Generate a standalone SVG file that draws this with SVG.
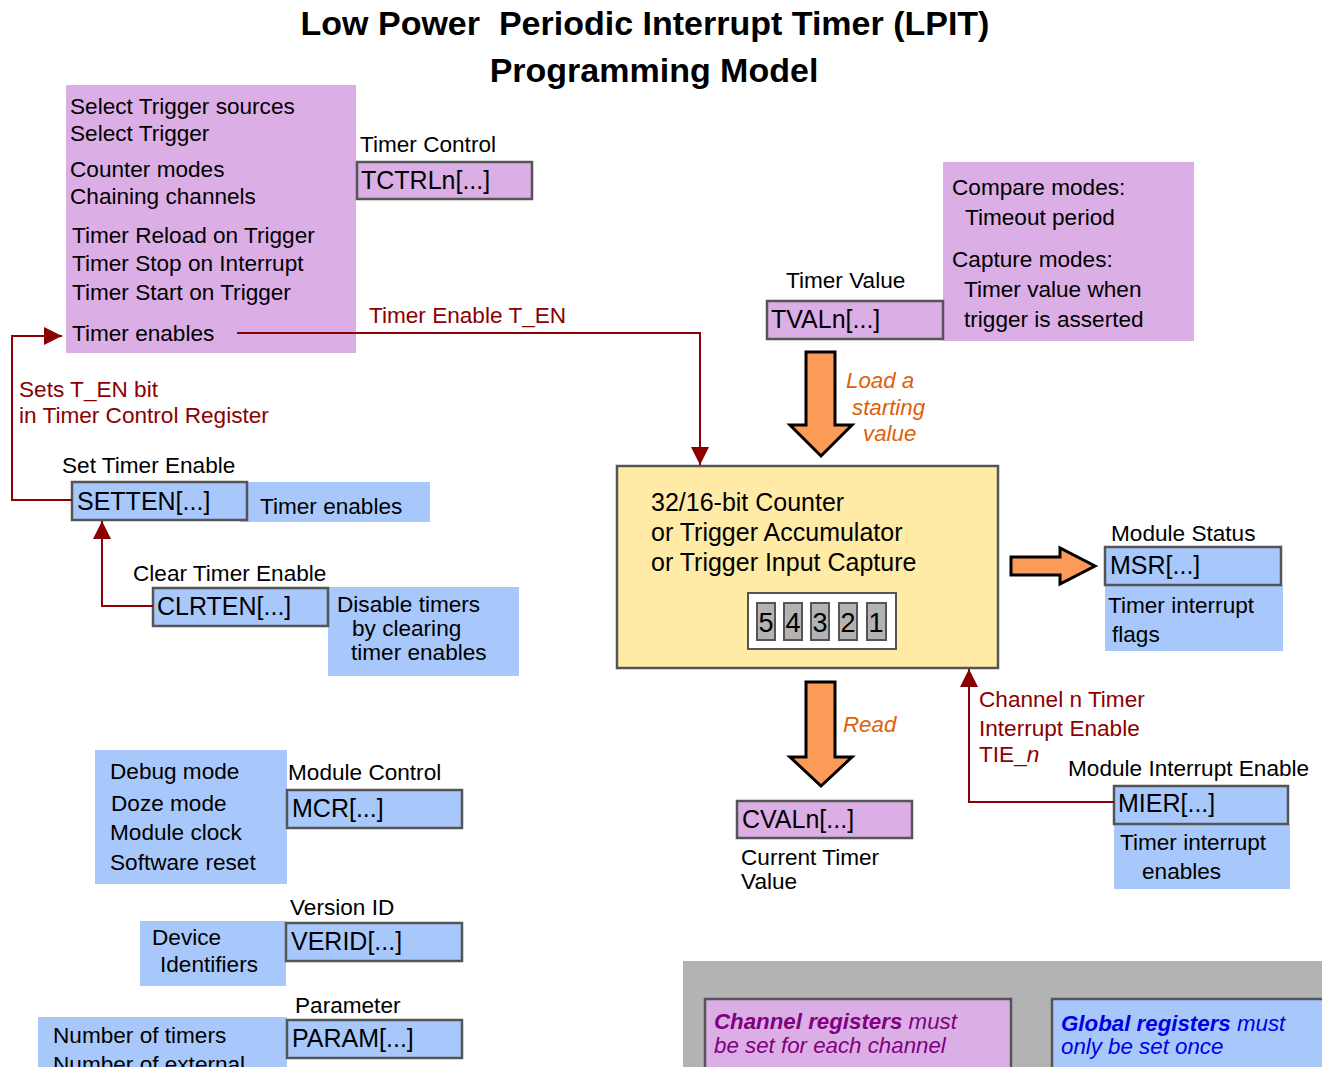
<svg xmlns="http://www.w3.org/2000/svg" width="1322" height="1067" viewBox="0 0 1322 1067">
<style>
text{font-family:"Liberation Sans",Arial,sans-serif;fill:#000}
.t{font-size:22.6px}
.reg{font-size:25px}
.red{fill:#8b0000;font-size:22.6px}
.org{fill:#e0600a;font-size:22.3px;font-style:italic}
.pur{fill:#dcaee6}
.blu{fill:#a8c8fc}
.box{stroke:#555;stroke-width:2.5}
.con{fill:none;stroke:#8b0000;stroke-width:2}
.blk{fill:#fc9b58;stroke:#000;stroke-width:3}
.dig{fill:#b3b3b3;stroke:#555;stroke-width:2}
</style>
<defs>
<marker id="ah" viewBox="0 0 18 18" refX="18" refY="9" markerWidth="18" markerHeight="18" markerUnits="userSpaceOnUse" orient="auto">
<path d="M0,0 L18,9 L0,18 z" fill="#8b0000"/>
</marker>
</defs>
<rect width="1322" height="1067" fill="#fff"/>
<g id="title">
<text x="645" y="35" text-anchor="middle" font-size="34" font-weight="bold" style="white-space:pre">Low Power  Periodic Interrupt Timer (LPIT)</text>
<text x="654" y="82" text-anchor="middle" font-size="34" font-weight="bold">Programming Model</text>
</g>
<g id="tctrl-desc">
<rect class="pur" x="66" y="85" width="290" height="268"/>
<text class="t" x="70" y="114">Select Trigger sources</text>
<text class="t" x="70" y="141">Select Trigger</text>
<text class="t" x="70" y="177">Counter modes</text>
<text class="t" x="70" y="204">Chaining channels</text>
<text class="t" x="72" y="243">Timer Reload on Trigger</text>
<text class="t" x="72" y="271">Timer Stop on Interrupt</text>
<text class="t" x="72" y="300">Timer Start on Trigger</text>
<text class="t" x="72" y="341">Timer enables</text>
</g>
<g id="tctrl">
<text class="t" x="360" y="152">Timer Control</text>
<rect class="pur box" x="357" y="162" width="175" height="37"/>
<text class="reg" x="361" y="189">TCTRLn[...]</text>
</g>
<g id="setten">
<text class="t" x="62" y="473">Set Timer Enable</text>
<rect class="blu" x="240" y="482" width="190" height="40"/>
<text class="t" x="260" y="514">Timer enables</text>
<rect class="blu box" x="72" y="482" width="175" height="38"/>
<text class="reg" x="77" y="510">SETTEN[...]</text>
</g>
<g id="clrten">
<text class="t" x="133" y="581">Clear Timer Enable</text>
<rect class="blu" x="328" y="587" width="191" height="89"/>
<text class="t" x="337" y="612">Disable timers</text>
<text class="t" x="352" y="636">by clearing</text>
<text class="t" x="351" y="660">timer enables</text>
<rect class="blu box" x="153" y="588" width="175" height="38"/>
<text class="reg" x="157" y="615">CLRTEN[...]</text>
</g>
<g id="tval">
<rect class="pur" x="943" y="162" width="251" height="179"/>
<text class="t" x="952" y="195">Compare modes:</text>
<text class="t" x="965" y="225">Timeout period</text>
<text class="t" x="952" y="267">Capture modes:</text>
<text class="t" x="964" y="297">Timer value when</text>
<text class="t" x="964" y="327">trigger is asserted</text>
<text class="t" x="786" y="288">Timer Value</text>
<rect class="pur box" x="767" y="301" width="176" height="38"/>
<text class="reg" x="771" y="328">TVALn[...]</text>
</g>
<g id="counter">
<rect x="617" y="466" width="381" height="202" fill="#ffeba6" stroke="#555" stroke-width="2.5"/>
<text x="651" y="511" font-size="25">32/16-bit Counter</text>
<text x="651" y="541" font-size="25">or Trigger Accumulator</text>
<text x="651" y="571" font-size="25">or Trigger Input Capture</text>
<rect x="748" y="593" width="148" height="56" fill="#fff" stroke="#555" stroke-width="2"/>
<rect class="dig" x="757" y="603" width="18" height="37"/>
<rect class="dig" x="784" y="603" width="18" height="37"/>
<rect class="dig" x="811" y="603" width="18" height="37"/>
<rect class="dig" x="839" y="603" width="18" height="37"/>
<rect class="dig" x="867" y="603" width="19" height="37"/>
<text x="766" y="632" font-size="27" text-anchor="middle">5</text>
<text x="793" y="632" font-size="27" text-anchor="middle">4</text>
<text x="820" y="632" font-size="27" text-anchor="middle">3</text>
<text x="848" y="632" font-size="27" text-anchor="middle">2</text>
<text x="876" y="632" font-size="27" text-anchor="middle">1</text>
</g>
<g id="msr">
<text class="t" x="1111" y="541">Module Status</text>
<rect class="blu" x="1105" y="585" width="178" height="66"/>
<text class="t" x="1108" y="613">Timer interrupt</text>
<text class="t" x="1112" y="642">flags</text>
<rect class="blu box" x="1105" y="547" width="176" height="38"/>
<text class="reg" x="1110" y="574">MSR[...]</text>
</g>
<g id="cval">
<rect class="pur box" x="737" y="801" width="175" height="37"/>
<text class="reg" x="742" y="828">CVALn[...]</text>
<text class="t" x="741" y="865">Current Timer</text>
<text class="t" x="741" y="889">Value</text>
</g>
<g id="mier">
<text class="t" x="1068" y="776">Module Interrupt Enable</text>
<rect class="blu" x="1114" y="824" width="176" height="65"/>
<text class="t" x="1120" y="850">Timer interrupt</text>
<text class="t" x="1142" y="879">enables</text>
<rect class="blu box" x="1114" y="786" width="174" height="38"/>
<text class="reg" x="1118" y="812">MIER[...]</text>
</g>
<g id="mcr">
<rect class="blu" x="95" y="750" width="192" height="134"/>
<text class="t" x="110" y="779">Debug mode</text>
<text class="t" x="111" y="811">Doze mode</text>
<text class="t" x="110" y="840">Module clock</text>
<text class="t" x="110" y="870">Software reset</text>
<text class="t" x="288" y="780">Module Control</text>
<rect class="blu box" x="287" y="790" width="175" height="38"/>
<text class="reg" x="292" y="817">MCR[...]</text>
</g>
<g id="verid">
<rect class="blu" x="140" y="921" width="146" height="65"/>
<text class="t" x="152" y="945">Device</text>
<text class="t" x="160" y="972">Identifiers</text>
<text class="t" x="290" y="915">Version ID</text>
<rect class="blu box" x="286" y="923" width="176" height="38"/>
<text class="reg" x="291" y="950">VERID[...]</text>
</g>
<g id="param">
<rect class="blu" x="38" y="1017" width="249" height="60"/>
<text class="t" x="53" y="1043">Number of timers</text>
<text class="t" x="53" y="1072">Number of external</text>
<text class="t" x="295" y="1013">Parameter</text>
<rect class="blu box" x="287" y="1020" width="175" height="38"/>
<text class="reg" x="292" y="1047">PARAM[...]</text>
</g>
<g id="legend">
<rect x="683" y="961" width="650" height="120" fill="#b3b3b3"/>
<rect class="pur box" x="705" y="999" width="306" height="80"/>
<text x="714" y="1029" font-size="22.3" font-style="italic" style="fill:#800080"><tspan font-weight="bold">Channel registers</tspan> must</text>
<text x="714" y="1053" font-size="22.3" font-style="italic" style="fill:#800080">be set for each channel</text>
<rect class="blu box" x="1052" y="999" width="280" height="80"/>
<text x="1061" y="1031" font-size="22.3" font-style="italic" style="fill:#0000e6"><tspan font-weight="bold">Global registers</tspan> must</text>
<text x="1061" y="1054" font-size="22.3" font-style="italic" style="fill:#0000e6">only be set once</text>
</g>
<g id="connectors">
<path class="con" d="M237,333 H700 V465" marker-end="url(#ah)"/>
<path class="con" d="M72,500 H12 V336 H62" marker-end="url(#ah)"/>
<path class="con" d="M153,606 H102 V521" marker-end="url(#ah)"/>
<path class="con" d="M1114,802 H969 V669" marker-end="url(#ah)"/>
<polygon class="blk" points="806,352 835,352 835,425 852,425 821,456 790,425 806,425"/>
<polygon class="blk" points="806,682 835,682 835,757 852,757 821,786 790,757 806,757"/>
<polygon class="blk" points="1011,557 1060,557 1060,548 1095,566 1060,584 1060,575 1011,575"/>
<text class="red" x="369" y="323">Timer Enable T_EN</text>
<text class="red" x="19" y="397">Sets T_EN bit</text>
<text class="red" x="19" y="423">in Timer Control Register</text>
<text class="red" x="979" y="707">Channel n Timer</text>
<text class="red" x="979" y="736">Interrupt Enable</text>
<text class="red" x="979" y="762">TIE_<tspan font-style="italic">n</tspan></text>
<text class="org" x="846" y="388">Load a</text>
<text class="org" x="852" y="415">starting</text>
<text class="org" x="863" y="441">value</text>
<text class="org" x="843" y="732">Read</text>
</g>
</svg>
